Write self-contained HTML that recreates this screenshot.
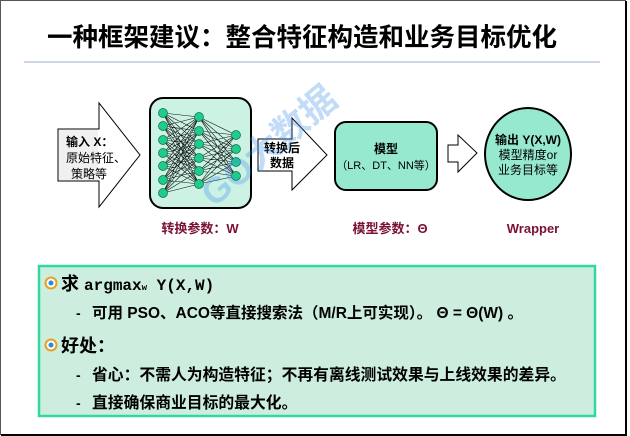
<!DOCTYPE html>
<html><head><meta charset="utf-8"><style>
html,body{margin:0;padding:0;background:#fff;}
body{width:630px;height:436px;overflow:hidden;position:relative;font-family:"Liberation Sans","Noto Sans CJK SC",sans-serif;}
</style></head><body>
<svg width="630" height="436" viewBox="0 0 630 436" xmlns="http://www.w3.org/2000/svg" style="position:absolute;left:0;top:0">
<rect x="0.5" y="0.5" width="625" height="434" fill="#fff" stroke="#555" stroke-width="1"/>
<line x1="626" y1="1" x2="626" y2="436" stroke="#000" stroke-width="2"/>
<line x1="1" y1="435" x2="627" y2="435" stroke="#000" stroke-width="2"/>
<text x="302" y="46" text-anchor="middle" font-family="Liberation Sans,Noto Sans CJK SC,sans-serif" font-weight="bold" font-size="25.5" fill="#000">一种框架建议：整合特征构造和业务目标优化</text>
<line x1="24" y1="62" x2="600" y2="62" stroke="#9aaccc" stroke-width="1"/>

<!-- input arrow -->
<polygon points="58,129 99,129 99,103 140,155 99,207 99,181 58,181" fill="#fff" stroke="#000" stroke-width="1"/>
<polygon points="59,130 98,130 98,180 59,180" fill="#f0f0f0"/>
<text x="66" y="146" font-weight="bold" font-size="12" font-family="Liberation Sans,Noto Sans CJK SC,sans-serif">输入 X：</text>
<text x="66" y="162" font-size="12" font-family="Liberation Sans,Noto Sans CJK SC,sans-serif">原始特征、</text>
<text x="71" y="178" font-size="12" font-family="Liberation Sans,Noto Sans CJK SC,sans-serif">策略等</text>

<!-- NN box -->
<rect x="150" y="98" width="101" height="110" rx="13" fill="#ccf2e4" stroke="#000" stroke-width="2"/>
<path stroke="#111" stroke-width="0.6" fill="none" d="
M163 113L199 117M163 113L199 131M163 113L199 144M163 113L199 158M163 113L199 171M163 113L199 184
M163 126L199 117M163 126L199 131M163 126L199 144M163 126L199 158M163 126L199 171M163 126L199 184
M163 140L199 117M163 140L199 131M163 140L199 144M163 140L199 158M163 140L199 171M163 140L199 184
M163 153L199 117M163 153L199 131M163 153L199 144M163 153L199 158M163 153L199 171M163 153L199 184
M163 166L199 117M163 166L199 131M163 166L199 144M163 166L199 158M163 166L199 171M163 166L199 184
M163 180L199 117M163 180L199 131M163 180L199 144M163 180L199 158M163 180L199 171M163 180L199 184
M163 193L199 117M163 193L199 131M163 193L199 144M163 193L199 158M163 193L199 171M163 193L199 184
M199 117L236 135M199 117L236 149M199 117L236 162M199 117L236 176
M199 131L236 135M199 131L236 149M199 131L236 162M199 131L236 176
M199 144L236 135M199 144L236 149M199 144L236 162M199 144L236 176
M199 158L236 135M199 158L236 149M199 158L236 162M199 158L236 176
M199 171L236 135M199 171L236 149M199 171L236 162M199 171L236 176
M199 184L236 135M199 184L236 149M199 184L236 162M199 184L236 176"/>
<g fill="#1fcc8a" stroke="#0a6a50" stroke-width="0.7">
<circle cx="163" cy="113" r="4.5"/><circle cx="163" cy="126" r="4.5"/><circle cx="163" cy="140" r="4.5"/><circle cx="163" cy="153" r="4.5"/><circle cx="163" cy="166" r="4.5"/><circle cx="163" cy="180" r="4.5"/><circle cx="163" cy="193" r="4.5"/>
<circle cx="199" cy="117" r="4.5"/><circle cx="199" cy="131" r="4.5"/><circle cx="199" cy="144" r="4.5"/><circle cx="199" cy="158" r="4.5"/><circle cx="199" cy="171" r="4.5"/><circle cx="199" cy="184" r="4.5"/>
<circle cx="236" cy="135" r="4.5"/><circle cx="236" cy="149" r="4.5"/><circle cx="236" cy="162" r="4.5"/><circle cx="236" cy="176" r="4.5"/>
</g>
<text x="200" y="233" text-anchor="middle" font-weight="bold" font-size="13" fill="#7a1034" font-family="Liberation Sans,Noto Sans CJK SC,sans-serif">转换参数：W</text>

<!-- arrow 2 -->
<polygon points="258,139 292,139 292,118 327,155 292,190 292,171 258,171" fill="#fff" stroke="#000" stroke-width="1"/>
<text x="282" y="152" text-anchor="middle" font-weight="bold" font-size="12" font-family="Liberation Sans,Noto Sans CJK SC,sans-serif">转换后</text>
<text x="282" y="167" text-anchor="middle" font-weight="bold" font-size="12" font-family="Liberation Sans,Noto Sans CJK SC,sans-serif">数据</text>

<!-- watermark -->
<g transform="translate(214,208) rotate(-40)" opacity="0.3" fill="#3a8ee8">
<text x="0" y="0" font-size="36" font-weight="bold" font-family="Liberation Sans,Noto Sans CJK SC,sans-serif">GO大数据</text>
</g>

<!-- model box -->
<rect x="335" y="122" width="102" height="68" rx="11" fill="#96e8cf" stroke="#000" stroke-width="2"/>
<text x="386" y="153" text-anchor="middle" font-weight="bold" font-size="12" font-family="Liberation Sans,Noto Sans CJK SC,sans-serif">模型</text>
<text x="386" y="169" text-anchor="middle" font-size="11" font-family="Liberation Sans,Noto Sans CJK SC,sans-serif">（LR、DT、NN等）</text>
<text x="390" y="233" text-anchor="middle" font-weight="bold" font-size="13" fill="#7a1034" font-family="Liberation Sans,Noto Sans CJK SC,sans-serif">模型参数：Θ</text>

<!-- arrow 3 -->
<polygon points="448,145 458,145 458,135 477,153 458,172 458,162 448,162" fill="#fff" stroke="#000" stroke-width="1"/>

<!-- circle -->
<ellipse cx="528" cy="154" rx="43" ry="46" fill="#96e8cf" stroke="#000" stroke-width="2"/>
<text x="528" y="144" text-anchor="middle" font-weight="bold" font-size="12" font-family="Liberation Sans,Noto Sans CJK SC,sans-serif">输出 Y(X,W)</text>
<text x="528" y="159" text-anchor="middle" font-size="12" font-family="Liberation Sans,Noto Sans CJK SC,sans-serif">模型精度or</text>
<text x="528" y="174" text-anchor="middle" font-size="12" font-family="Liberation Sans,Noto Sans CJK SC,sans-serif">业务目标等</text>
<text x="533" y="233" text-anchor="middle" font-weight="bold" font-size="13" fill="#7a1034" font-family="Liberation Sans,sans-serif">Wrapper</text>

<!-- bottom box -->
<rect x="39" y="266" width="556" height="150" fill="#cdeedf" stroke="#2ed8a0" stroke-width="2.5"/>
<g>
<circle cx="51" cy="283" r="5.5" fill="#fff" stroke="#e8a020" stroke-width="2"/><circle cx="51" cy="283" r="2.5" fill="#2a8ad8"/>
<circle cx="51" cy="345" r="5.5" fill="#fff" stroke="#e8a020" stroke-width="2"/><circle cx="51" cy="345" r="2.5" fill="#2a8ad8"/>
</g>
<g font-family="Liberation Sans,Noto Sans CJK SC,sans-serif" font-weight="bold" fill="#000">
<text x="61" y="290" font-size="18">求 <tspan font-family="Liberation Mono,monospace" font-size="16">argmax<tspan font-size="9">w</tspan> Y(X,W)</tspan></text>
<text x="76" y="318" font-size="14">-</text>
<text x="92" y="318" font-size="15.5">可用 PSO、ACO等直接搜索法（M/R上可实现）。 Θ = Θ(W) 。</text>
<text x="61" y="352" font-size="18">好处：</text>
<text x="76" y="380" font-size="14">-</text>
<text x="92" y="380" font-size="15.8">省心：不需人为构造特征；不再有离线测试效果与上线效果的差异。</text>
<text x="76" y="408" font-size="14">-</text>
<text x="92" y="408" font-size="15.8">直接确保商业目标的最大化。</text>
</g>
</svg>
</body></html>
